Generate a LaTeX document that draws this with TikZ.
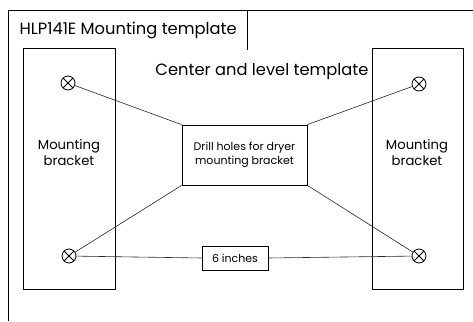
\documentclass[tikz,border=0pt]{standalone}
\usepackage{fontspec}
\setmainfont{Poppins}
\usetikzlibrary{positioning}

\tikzset{
  hole/.style={draw, circle, inner sep=0pt, minimum size=14pt, thick,
    path picture={\draw[thick] (path picture bounding box.north west) -- (path picture bounding box.south east)
      (path picture bounding box.north east) -- (path picture bounding box.south west);}},
  label box/.style={draw, thick, fill=white, align=center},
  link/.style={draw=black!85, semithick}
}

\begin{document}
\begin{tikzpicture}[x=1pt,y=-1pt]

\useasboundingbox (0,0) rectangle (473,321);

\draw[thick] (8,321) -- (8,10) -- (473,10);
\draw[thick] (247,10) -- (247,50);

\node[anchor=west, font=\fontsize{16.3}{18}\selectfont] (title) at (16,30) {HLP141E Mounting template};
\node[font=\fontsize{16.3}{18}\selectfont] (centre) at (262,72) {Center and level template};

\draw[thick] (23,48) rectangle (115,289);
\draw[thick] (372,48) rectangle (463,289);

\node[align=center, font=\fontsize{13.2}{16}\selectfont] (leftbracket) at (69,153) {Mounting\\bracket};
\node[align=center, font=\fontsize{13.2}{16}\selectfont] (rightbracket) at (417,153) {Mounting\\bracket};

\node[hole] (tlhole) at (68,83) {};
\node[hole] (blhole) at (69,256) {};
\node[hole] (trhole) at (419,84) {};
\node[hole] (brhole) at (419,256) {};

\node[label box, minimum width=125pt, minimum height=60pt, font=\fontsize{11}{14}\selectfont] (drill) at (244.5,155) {Drill holes for dryer\\mounting bracket};
\node[label box, minimum width=66pt, minimum height=24pt, font=\fontsize{11}{13}\selectfont] (inches) at (235,258) {6 inches};

\draw[link] (tlhole) -- (drill.north west);
\draw[link] (trhole) -- (drill.north east);
\draw[link] (blhole) -- (drill.south west);
\draw[link] (brhole) -- (drill.south east);

\draw[link] (blhole) -- (inches.west);
\draw[link] (inches.east) -- (brhole);

\end{tikzpicture}
\end{document}
